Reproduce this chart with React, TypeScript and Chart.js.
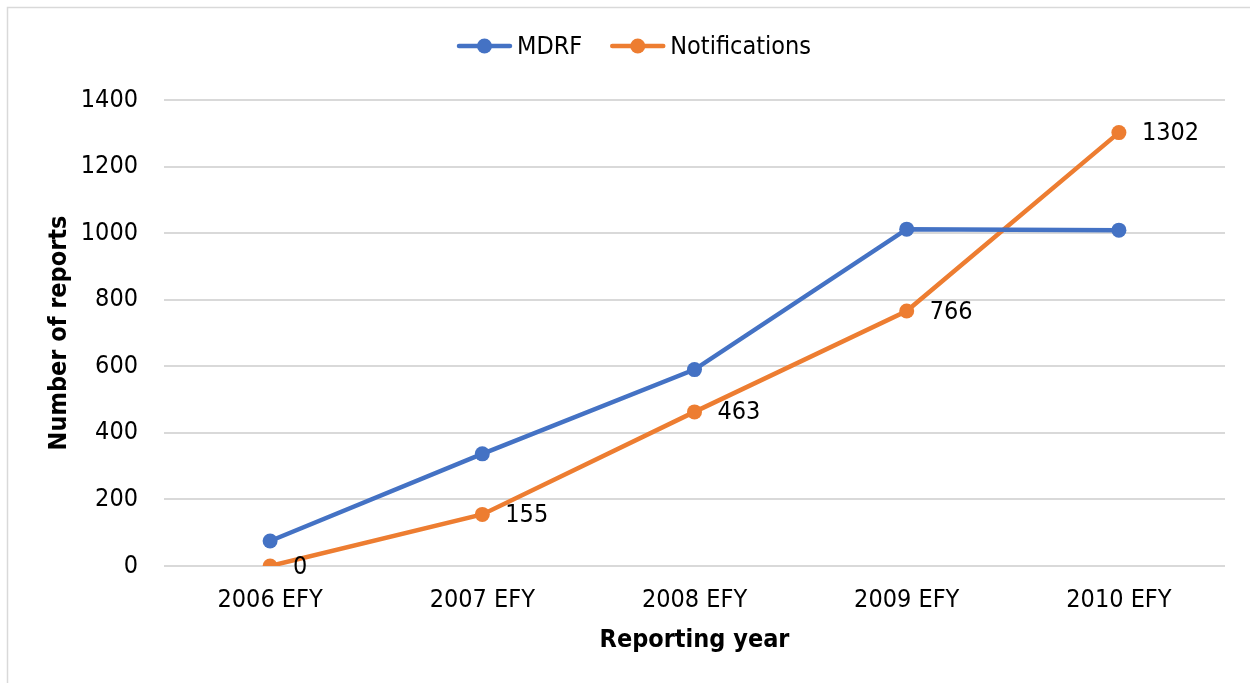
import React, { useEffect, useRef } from "react";
import { Chart, registerables } from "chart.js";

Chart.register(...registerables);

const categories = ["2006 EFY", "2007 EFY", "2008 EFY", "2009 EFY", "2010 EFY"];
const mdrfValues = [75, 337, 590, 1012, 1009];
const notificationValues = [0, 155, 463, 766, 1302];
const seriesNames = ["MDRF", "Notifications"];
const seriesColors = ["#4472C4", "#ED7D31"];
const yTicks = { min: 0, max: 1400, step: 200 };

const FONT = '"DejaVu Sans Condensed", "DejaVu Sans", Tahoma, sans-serif';
const FS = 25;

const framePlugin = {
  id: "frame",
  beforeDraw(chart: any) {
    const ctx = chart.ctx;
    ctx.save();
    ctx.fillStyle = "#ffffff";
    ctx.fillRect(0, 0, chart.width, chart.height);
    ctx.strokeStyle = "#D9D9D9";
    ctx.lineWidth = 1.5;
    ctx.beginPath();
    ctx.moveTo(7.5, chart.height + 5);
    ctx.lineTo(7.5, 7.5);
    ctx.lineTo(chart.width + 5, 7.5);
    ctx.stroke();
    ctx.restore();
  },
};

const legendPlugin = {
  id: "customLegend",
  afterDraw(chart: any) {
    const ctx = chart.ctx;
    ctx.save();
    ctx.font = `${FS}px ${FONT}`;
    const lineLen = 55;
    const textGap = 5;
    const itemGap = 28;
    const widths = seriesNames.map((n) => lineLen + textGap + ctx.measureText(n).width);
    const total = widths.reduce((a, b) => a + b, 0) + itemGap * (seriesNames.length - 1);
    let x = 634 - total / 2;
    const y = 46;
    seriesNames.forEach((name, i) => {
      ctx.strokeStyle = seriesColors[i];
      ctx.lineWidth = 4.5;
      ctx.lineCap = "round";
      ctx.beginPath();
      ctx.moveTo(x + 2, y);
      ctx.lineTo(x + lineLen - 2, y);
      ctx.stroke();
      ctx.fillStyle = seriesColors[i];
      ctx.beginPath();
      ctx.arc(x + lineLen / 2, y, 7.5, 0, Math.PI * 2);
      ctx.fill();
      ctx.fillStyle = "#000000";
      ctx.textAlign = "left";
      ctx.textBaseline = "middle";
      ctx.fillText(name, x + lineLen + textGap, y + 1);
      x += widths[i] + itemGap;
    });
    ctx.restore();
  },
};

const dataLabelPlugin = {
  id: "dataLabels",
  afterDatasetsDraw(chart: any) {
    const ctx = chart.ctx;
    const meta = chart.getDatasetMeta(1);
    const ds = chart.data.datasets[1];
    ctx.save();
    ctx.font = `${FS}px ${FONT}`;
    ctx.fillStyle = "#000000";
    ctx.textAlign = "left";
    ctx.textBaseline = "middle";
    meta.data.forEach((pt: any, i: number) => {
      ctx.fillText(String(ds.data[i]), pt.x + 23, pt.y + 1);
    });
    ctx.restore();
  },
};

export default function App() {
  const ref = useRef<HTMLCanvasElement | null>(null);
  useEffect(() => {
    if (!ref.current) return;
    const chart = new Chart(ref.current, {
      type: "line",
      data: {
        labels: categories,
        datasets: [
          {
            label: seriesNames[0],
            data: mdrfValues,
            borderColor: seriesColors[0],
            backgroundColor: seriesColors[0],
            borderWidth: 4.5,
            pointRadius: 7.5,
            pointBorderWidth: 0,
            pointBackgroundColor: seriesColors[0],
            tension: 0,
          },
          {
            label: seriesNames[1],
            data: notificationValues,
            borderColor: seriesColors[1],
            backgroundColor: seriesColors[1],
            borderWidth: 4.5,
            pointRadius: 7.5,
            pointBorderWidth: 0,
            pointBackgroundColor: seriesColors[1],
            tension: 0,
          },
        ],
      },
      options: {
        responsive: false,
        animation: false,
        devicePixelRatio: 1,
        layout: { padding: { top: 100, left: 0, right: 25, bottom: 0 } },
        plugins: {
          legend: { display: false },
          title: { display: false },
          tooltip: { enabled: false },
        },
        scales: {
          x: {
            offset: true,
            grid: { display: false, drawTicks: false },
            border: { display: false },
            ticks: {
              color: "#000000",
              font: { family: FONT, size: FS },
              padding: 19,
              maxRotation: 0,
            },
            title: {
              display: true,
              text: "Reporting year",
              color: "#000000",
              font: { family: FONT, size: FS, weight: "bold" },
              padding: { top: 0, bottom: 28 },
            },
            afterFit: (s: any) => {
              s.height = 117;
            },
          },
          y: {
            min: yTicks.min,
            max: yTicks.max,
            grid: { color: "#D9D9D9", lineWidth: 2, drawTicks: false },
            border: { display: false },
            ticks: {
              stepSize: yTicks.step,
              color: "#000000",
              font: { family: FONT, size: FS },
              padding: 26,
              callback: (v: any) => String(v),
            },
            title: {
              display: true,
              text: "Number of reports",
              color: "#000000",
              font: { family: FONT, size: FS, weight: "bold" },
              padding: { top: 44, bottom: 0 },
            },
            afterFit: (s: any) => {
              s.width = 164;
            },
          },
        },
      },
      plugins: [framePlugin, legendPlugin, dataLabelPlugin],
    });
    return () => chart.destroy();
  }, []);
  return (
    <div style={{ position: "fixed", left: 0, top: 0, width: 1250, height: 683, background: "#fff" }}>
      <canvas ref={ref} width={1250} height={683} style={{ display: "block" }} />
    </div>
  );
}
